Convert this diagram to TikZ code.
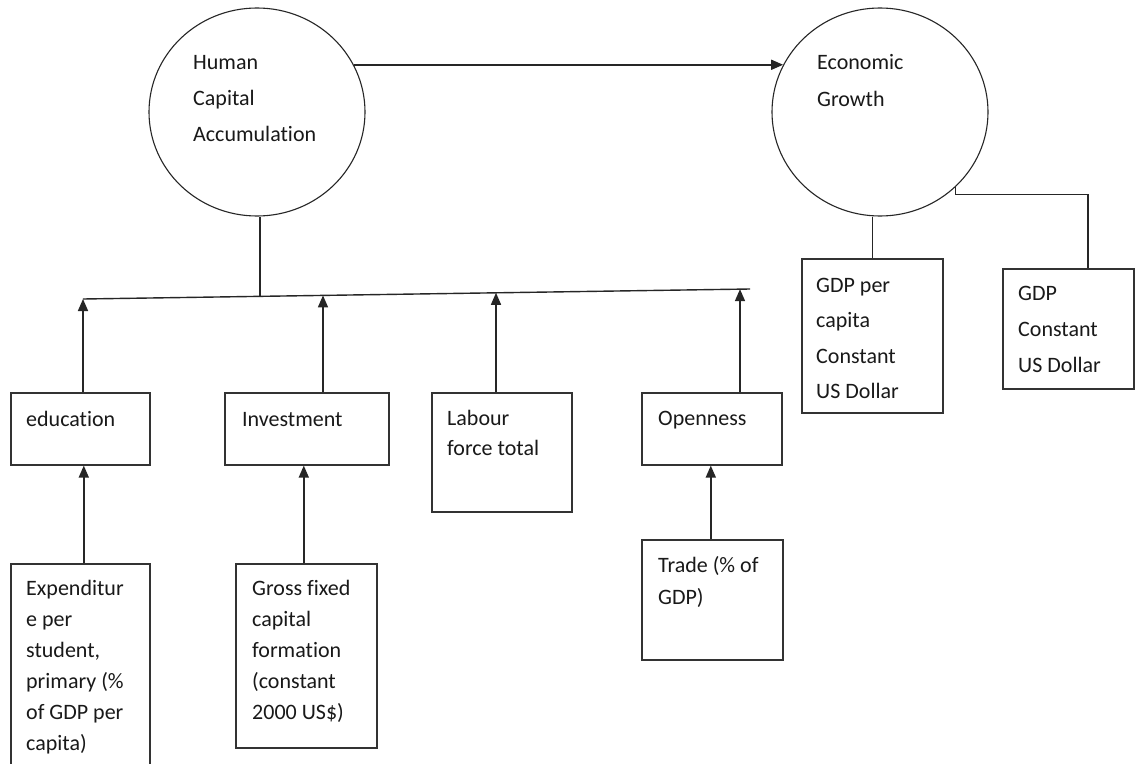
\documentclass[tikz,border=0pt]{standalone}
\usepackage{fontspec}
\setmainfont{Carlito}[Ligatures=NoCommon]
\usetikzlibrary{shapes.geometric,arrows.meta,calc}
\begin{document}
\begin{tikzpicture}[x=1pt,y=-1pt,
  box/.style={draw=black!80, line width=1.6pt, rectangle, anchor=north west, inner sep=0pt},
  circ/.style={draw=black!85, line width=1.1pt, ellipse, inner sep=0pt, minimum width=216pt, minimum height=208pt},
  lbl/.style={anchor=north west, inner sep=0pt, align=left, text=black!90, font=\fontsize{22}{#1}\selectfont},
  arr/.style={draw=black!85, line width=1.6pt, -{Triangle[length=12pt,width=10pt]}},
  ln/.style={draw=black!85, line width=1.4pt}]
\clip (0,0) rectangle (1135,763);
\fill[white] (0,0) rectangle (1135,763);

% circles
\node[circ] (hca) at (257,112) {};
\node[circ] (eg) at (880,112) {};
\node[lbl=36] (thca) at (193,43.8) {\strut Human\\Capital\\Accumulation};
\node[lbl=37] (teg) at (817,43.1) {\strut Economic\\Growth};

% boxes
\node[box, minimum width=139pt, minimum height=72pt] (edu) at (10,392) {};
\node[box, minimum width=164pt, minimum height=72pt] (inv) at (224,392) {};
\node[box, minimum width=140pt, minimum height=119pt] (lab) at (431,392) {};
\node[box, minimum width=140pt, minimum height=72pt] (opn) at (641,392) {};
\node[box, minimum width=139pt, minimum height=230pt] (exp) at (10,563) {};
\node[box, minimum width=141pt, minimum height=184pt] (gfc) at (235,563) {};
\node[box, minimum width=141pt, minimum height=120pt] (trd) at (641,539) {};
\node[box, minimum width=141pt, minimum height=154pt] (gpc) at (801,258) {};
\node[box, minimum width=131pt, minimum height=120pt] (gdp) at (1002,268) {};

% labels
\node[lbl=31] (tedu) at (26,404.3) {\strut education};
\node[lbl=31] (tinv) at (242,404.3) {\strut Investment};
\node[lbl=30] (tlab) at (447,404) {\strut Labour\\force total};
\node[lbl=31] (topn) at (658,403.3) {\strut Openness};
\node[lbl=31] (texp) at (26,573.3) {\strut Expenditur\\e per\\student,\\primary (\%\\of GDP per\\capita)};
\node[lbl=31] (tgfc) at (252,573.3) {\strut Gross fixed\\capital\\formation\\(constant\\2000 US\$)};
\node[lbl=32] (ttrd) at (658,549.6) {\strut Trade (\% of\\GDP)};
\node[lbl=35.5] (tgpc) at (816,267.2) {\strut GDP per\\capita\\Constant\\US Dollar};
\node[lbl=36] (tgdp) at (1018,274.8) {\strut GDP\\Constant\\US Dollar};

% bus line
\coordinate (busL) at (83,299);
\coordinate (busR) at (750,289);
\coordinate (bH) at ($(busL)!0.2654!(busR)$);
\coordinate (bInv) at ($(busL)!0.3598!(busR)$);
\coordinate (bLab) at ($(busL)!0.6192!(busR)$);
\coordinate (bOpn) at ($(busL)!0.985!(busR)$);
\draw[ln] (busL) -- (busR);
\draw[ln] (hca.south -| bH) -- (bH);

% arrows up to the bus
\draw[arr] (edu.north -| busL) -- (busL);
\draw[arr] (inv.north -| bInv) -- (bInv);
\draw[arr] (lab.north -| bLab) -- (bLab);
\draw[arr] (opn.north -| bOpn) -- (bOpn);

% arrows from indicators
\draw[arr] ([xshift=3.5pt]exp.north) -- ([xshift=3.5pt]edu.south);
\draw[arr] ([xshift=-2.5pt]gfc.north) -- ([xshift=-2.5pt]gfc.north |- inv.south);
\draw[arr] ([xshift=-1.5pt]trd.north) -- ([xshift=-1.5pt]trd.north |- opn.south);

% HCA -> EG
\draw[arr] (hca.26) -- (eg.154);

% EG connectors
\draw[ln] (gpc.north) -- (gpc.north |- eg.south);
\draw[ln] (eg.-45) -- ++(0,7) -| ([xshift=19.5pt]gdp.north);
\end{tikzpicture}
\end{document}
